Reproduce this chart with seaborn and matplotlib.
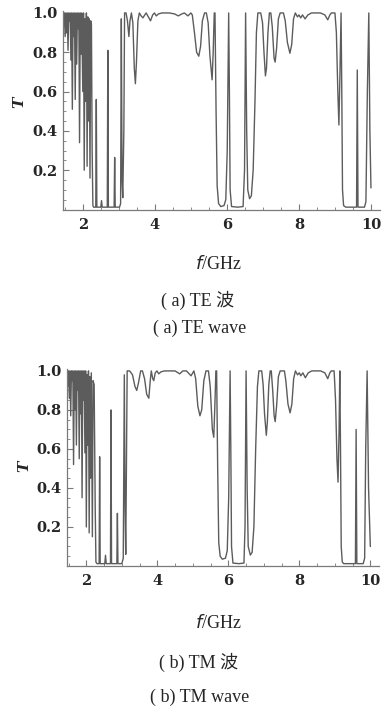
import numpy as np
import matplotlib
matplotlib.use('Agg')
import matplotlib.pyplot as plt
import seaborn as sns
from matplotlib.ticker import MultipleLocator, FixedLocator

sns.set_style('white')
plt.rcParams['font.family'] = ['Liberation Serif', 'Noto Sans CJK SC']

# TE wave: frequency (GHz) and transmission
te_freq = [1.45, 1.47, 1.49, 1.51, 1.53, 1.55, 1.57, 1.59, 1.61, 1.63, 1.65, 1.67, 1.69, 1.71, 1.73,
           1.75, 1.77, 1.79, 1.81, 1.83, 1.85, 1.87, 1.89, 1.91, 1.93, 1.95, 1.97, 2.00, 2.02, 2.04,
           2.06, 2.08, 2.10, 2.12, 2.14, 2.16, 2.18, 2.20, 2.22, 2.24, 2.26, 2.28, 2.30,
           2.36, 2.375, 2.39, 2.50, 2.52, 2.54, 2.68, 2.695, 2.71, 2.87, 2.885, 2.90,
           3.02, 3.05, 3.07, 3.09, 3.11, 3.14, 3.16,
           3.20, 3.24, 3.28, 3.31, 3.35, 3.39, 3.43, 3.46, 3.49, 3.53, 3.57, 3.62, 3.67, 3.72, 3.76,
           3.82, 3.88, 3.94, 3.99, 4.04, 4.10, 4.20, 4.40, 4.55, 4.65, 4.75, 4.82, 4.92, 5.00, 5.04,
           5.10, 5.16, 5.22, 5.27, 5.32, 5.38, 5.43, 5.48, 5.53, 5.59, 5.62, 5.65, 5.67,
           5.70, 5.73, 5.77, 5.83, 5.92, 5.97, 6.01, 6.05, 6.07, 6.09, 6.13, 6.30, 6.45, 6.49, 6.52,
           6.55, 6.58, 6.63, 6.68, 6.73, 6.78, 6.82, 6.86, 6.94, 6.99, 7.03, 7.07, 7.10, 7.14, 7.18,
           7.22, 7.26, 7.31, 7.34, 7.38, 7.43, 7.48, 7.57, 7.62, 7.68, 7.75, 7.80, 7.85, 7.90, 7.96,
           8.00, 8.05, 8.10, 8.17, 8.25, 8.35, 8.60, 8.72, 8.80, 8.86, 8.90, 9.00, 9.04, 9.08, 9.11,
           9.14, 9.17, 9.19, 9.21, 9.24, 9.30, 9.60, 9.62, 9.64, 9.82, 9.86, 9.90, 9.94, 9.97, 10.0]
te_trans = [1.00, 0.93, 1.00, 0.88, 1.00, 0.90, 1.00, 0.81, 1.00, 0.96, 1.00, 0.76, 1.00, 0.51, 1.00,
            0.88, 1.00, 0.56, 1.00, 0.74, 1.00, 0.92, 1.00, 0.34, 1.00, 0.79, 1.00, 0.60, 1.00, 0.20,
            0.97, 0.55, 1.00, 0.22, 0.98, 0.45, 0.97, 0.16, 0.96, 0.94, 0.30, 0.02, 0.012,
            0.012, 0.56, 0.012, 0.012, 0.045, 0.012, 0.012, 0.81, 0.012, 0.012, 0.265, 0.012,
            0.012, 0.03, 0.97, 0.15, 0.06, 0.40, 1.00,
            1.00, 0.96, 0.88, 0.96, 1.00, 0.95, 0.72, 0.64, 0.75, 0.96, 1.00, 0.985, 0.975, 0.99, 1.00,
            0.98, 0.96, 0.99, 1.00, 0.985, 0.995, 1.00, 1.00, 0.995, 0.985, 0.995, 1.00, 0.985, 1.00, 0.99,
            0.90, 0.80, 0.78, 0.83, 0.96, 1.00, 1.00, 0.95, 0.78, 0.66, 0.80, 1.00, 1.00,
            0.50, 0.12, 0.03, 0.015, 0.02, 0.05, 0.30, 1.00, 0.60, 0.10, 0.015, 0.012, 0.015, 0.20, 1.00,
            0.40, 0.10, 0.055, 0.07, 0.20, 0.55, 0.90, 1.00, 1.00, 0.95, 0.80, 0.68, 0.72, 0.90, 1.00,
            1.00, 0.93, 0.77, 0.75, 0.82, 0.97, 1.00, 1.00, 0.96, 0.85, 0.795, 0.84, 0.97, 1.00, 0.98,
            0.99, 0.975, 0.99, 0.97, 0.99, 1.00, 1.00, 0.99, 0.965, 0.99, 1.00, 1.00, 0.90, 0.60, 0.43,
            0.70, 1.00, 0.60, 0.10, 0.02, 0.012, 0.012, 0.71, 0.012, 0.012, 0.04, 0.60, 1.00, 0.40, 0.11]

# TM wave: frequency (GHz) and transmission
tm_freq = [1.46, 1.48, 1.50, 1.52, 1.54, 1.56, 1.58, 1.60, 1.62, 1.64, 1.66, 1.68, 1.70, 1.72, 1.74,
           1.76, 1.78, 1.80, 1.82, 1.84, 1.86, 1.88, 1.90, 1.92, 1.94, 1.96, 1.98, 2.00, 2.02, 2.04,
           2.06, 2.08, 2.10, 2.12, 2.14, 2.17, 2.19, 2.22, 2.25, 2.27, 2.30,
           2.36, 2.375, 2.39, 2.52, 2.54, 2.56, 2.68, 2.695, 2.71, 2.86, 2.875, 2.89,
           3.00, 3.04, 3.07, 3.09, 3.11, 3.13, 3.15,
           3.22, 3.30, 3.37, 3.42, 3.47, 3.53, 3.58, 3.64, 3.70, 3.76, 3.80, 3.83, 3.87, 3.90, 3.94,
           3.99, 4.04, 4.10, 4.20, 4.50, 4.63, 4.72, 4.82, 4.95, 5.03, 5.08, 5.14, 5.20, 5.25, 5.31,
           5.37, 5.44, 5.49, 5.55, 5.59, 5.62, 5.65, 5.67,
           5.70, 5.73, 5.77, 5.83, 5.92, 5.97, 6.01, 6.05, 6.07, 6.09, 6.13, 6.30, 6.44, 6.47, 6.50,
           6.53, 6.56, 6.62, 6.67, 6.72, 6.77, 6.82, 6.86, 6.94, 6.98, 7.02, 7.07, 7.10, 7.14, 7.18,
           7.21, 7.25, 7.29, 7.32, 7.36, 7.41, 7.46, 7.58, 7.62, 7.68, 7.74, 7.79, 7.84, 7.89, 7.95,
           8.00, 8.04, 8.10, 8.17, 8.25, 8.35, 8.60, 8.72, 8.80, 8.86, 8.90, 8.98, 9.02, 9.06, 9.09,
           9.12, 9.14, 9.16, 9.18, 9.21, 9.25, 9.58, 9.60, 9.62, 9.80, 9.84, 9.87, 9.91, 9.95, 10.0]
tm_trans = [1.00, 0.92, 1.00, 0.86, 1.00, 0.77, 1.00, 0.95, 1.00, 0.52, 1.00, 0.80, 1.00, 0.62, 1.00,
            0.90, 1.00, 0.55, 1.00, 0.78, 1.00, 0.35, 1.00, 0.85, 1.00, 0.58, 1.00, 0.20, 0.98, 0.62,
            1.00, 0.17, 0.97, 0.45, 0.99, 0.15, 0.95, 0.93, 0.30, 0.02, 0.012,
            0.012, 0.56, 0.012, 0.012, 0.055, 0.012, 0.012, 0.80, 0.012, 0.012, 0.27, 0.012,
            0.012, 0.04, 0.98, 0.30, 0.06, 0.50, 1.00,
            1.00, 0.98, 0.92, 0.90, 0.94, 1.00, 1.00, 0.96, 0.88, 0.86, 0.95, 1.00, 0.96, 0.95, 0.99,
            1.00, 0.985, 0.995, 1.00, 1.00, 0.985, 1.00, 1.00, 0.975, 1.00, 0.96, 0.82, 0.77, 0.80, 0.95,
            1.00, 1.00, 0.92, 0.70, 0.66, 0.82, 1.00, 1.00,
            0.50, 0.12, 0.05, 0.035, 0.04, 0.08, 0.35, 1.00, 0.60, 0.10, 0.015, 0.012, 0.015, 0.20, 1.00,
            0.40, 0.10, 0.056, 0.07, 0.20, 0.60, 0.92, 1.00, 1.00, 0.93, 0.78, 0.67, 0.74, 0.93, 1.00,
            1.00, 0.90, 0.77, 0.74, 0.82, 0.97, 1.00, 1.00, 0.95, 0.83, 0.785, 0.83, 0.96, 1.00, 0.98,
            0.99, 0.975, 0.99, 0.965, 0.99, 1.00, 1.00, 0.99, 0.96, 0.99, 1.00, 1.00, 0.85, 0.55, 0.43,
            0.70, 1.00, 0.60, 0.10, 0.02, 0.012, 0.012, 0.70, 0.012, 0.012, 0.04, 0.60, 1.00, 0.40, 0.10]

x_ticks = [2, 4, 6, 8, 10]
y_ticks = [0.2, 0.4, 0.6, 0.8, 1.0]

line_color = '#5c5c5c'
axis_color = '#7a7a7a'
tick_font = dict(family='DejaVu Serif', weight='bold', size=10.5)

fig = plt.figure(figsize=(3.84, 7.09), dpi=100)
ax_te = fig.add_axes([0.164, 0.7045, 0.8255, 0.280])
ax_tm = fig.add_axes([0.174, 0.2017, 0.8135, 0.2779])


def style_axis(ax):
    ax.set_xlim(1.45, 10.25)
    ax.set_ylim(0, 1.01)
    for side in ['top', 'right']:
        ax.spines[side].set_visible(False)
    for side in ['left', 'bottom']:
        ax.spines[side].set_color(axis_color)
        ax.spines[side].set_linewidth(0.9)
    ax.xaxis.set_major_locator(FixedLocator(x_ticks))
    ax.xaxis.set_minor_locator(MultipleLocator(0.5))
    ax.yaxis.set_major_locator(FixedLocator(y_ticks))
    ax.yaxis.set_minor_locator(MultipleLocator(0.05))
    ax.tick_params(which='major', direction='in', length=4, width=0.8, color=axis_color,
                   left=True, bottom=True)
    ax.tick_params(which='minor', direction='in', length=2.2, width=0.6, color=axis_color,
                   left=True, bottom=True)
    ax.tick_params(axis='x', which='major', pad=6)
    ax.tick_params(axis='y', which='major', pad=4)
    ax.set_xticklabels([str(v) for v in x_ticks], fontdict=tick_font)
    ax.set_yticklabels([f'{v:.1f}' for v in y_ticks], fontdict=tick_font)
    ax.set_xlabel('')
    ax.set_ylabel('')
    ax.patch.set_alpha(0)


sns.lineplot(x=te_freq, y=te_trans, ax=ax_te, color=line_color, linewidth=1.0,
             sort=False, estimator=None)
sns.lineplot(x=tm_freq, y=tm_trans, ax=ax_tm, color=line_color, linewidth=1.0,
             sort=False, estimator=None)
style_axis(ax_te)
style_axis(ax_tm)

def px(x, y):
    return x / 384, 1 - y / 709

t_font = dict(family='DejaVu Serif', weight='bold', style='italic', size=11, rotation=90,
              ha='center', va='center')
fig.text(*px(19, 102), 'T', **t_font)
fig.text(*px(24, 466), 'T', **t_font)

cap = dict(ha='center', va='center', size=13, family=['Liberation Serif', 'Noto Sans CJK SC'])
fig.text(*px(218, 264), r'$\it{f}$/GHz', **cap)
fig.text(*px(198, 300), '( a) TE 波', **cap)
fig.text(*px(200, 328), '( a) TE wave', **cap)
fig.text(*px(218, 623), r'$\it{f}$/GHz', **cap)
fig.text(*px(199, 662), '( b) TM 波', **cap)
fig.text(*px(200, 697), '( b) TM wave', **cap)

fig.savefig('out.png', dpi=100, facecolor='white')
